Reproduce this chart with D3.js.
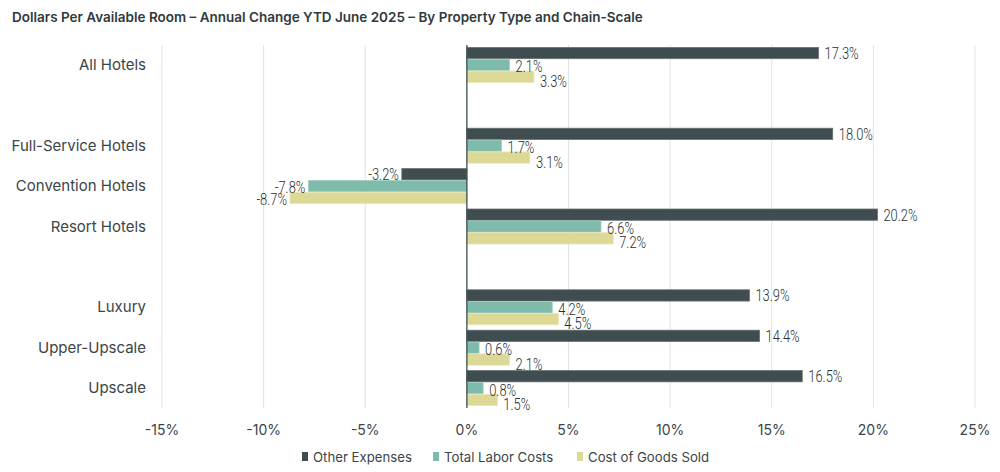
<!DOCTYPE html>
<html>
<head>
<meta charset="utf-8">
<script src="https://cdn.jsdelivr.net/npm/d3@7"></script>
<style>
  body { margin: 0; background: #fff; }
  svg { display: block; }
</style>
</head>
<body>
<svg id="chart" width="1000" height="472"></svg>
<script>
'use strict';

// chart data
const categories = [
  'All Hotels', '', 'Full-Service Hotels', 'Convention Hotels', 'Resort Hotels',
  ' ', 'Luxury', 'Upper-Upscale', 'Upscale'
];
const seriesNames = ['Other Expenses', 'Total Labor Costs', 'Cost of Goods Sold'];
const otherExpenses = [17.3, null, 18.0, -3.2, 20.2, null, 13.9, 14.4, 16.5];
const laborCosts = [2.1, null, 1.7, -7.8, 6.6, null, 4.2, 0.6, 0.8];
const goodsSold = [3.3, null, 3.1, -8.7, 7.2, null, 4.5, 2.1, 1.5];
const xTicks = [-15, -10, -5, 0, 5, 10, 15, 20, 25];

const colors = ['#3f4d50', '#7fbbab', '#dcd896'];
const strokes = ['#65716f', '#a2cfc2', '#e9e6b8'];
// small vertical nudge of the value labels per series
const labelShift = [0, 1.5, 4];

const svg = d3.select('#chart');
const margin = {top: 45, left: 162, right: 25, bottom: 64};
const width = 1000;
const height = 472;

const x = d3.scaleLinear()
  .domain([-15, 25])
  .range([margin.left, width - margin.right]);

const y = d3.scaleBand()
  .domain(categories)
  .range([margin.top, height - margin.bottom])
  .paddingInner(0.134)
  .paddingOuter(0.06);

const ySub = d3.scaleBand()
  .domain(d3.range(seriesNames.length))
  .range([0, y.bandwidth()])
  .paddingInner(0.05);

// title
svg.append('text')
  .attr('x', 12)
  .attr('y', 21.5)
  .style('font-family', 'Inter, sans-serif')
  .style('font-weight', 600)
  .style('font-size', '13.5px')
  .style('fill', '#2f3a3c')
  .text('Dollars Per Available Room \u2013 Annual Change YTD June 2025 \u2013 By Property Type and Chain-Scale');

// grid lines
svg.append('g')
  .selectAll('line')
  .data(xTicks.filter(d => d !== 0))
  .enter()
  .append('line')
  .attr('x1', d => x(d))
  .attr('x2', d => x(d))
  .attr('y1', margin.top)
  .attr('y2', height - margin.bottom)
  .style('stroke', '#e1e3e3')
  .style('stroke-width', 1);

// tick labels
svg.append('g')
  .selectAll('text')
  .data(xTicks)
  .enter()
  .append('text')
  .attr('x', d => x(d))
  .attr('y', 435)
  .attr('text-anchor', 'middle')
  .style('font-family', 'Inter, sans-serif')
  .style('font-size', '14px')
  .style('fill', '#3b4547')
  .text(d => d + '%');

// category labels
svg.append('g')
  .selectAll('text')
  .data(categories.filter(d => d.trim() !== ''))
  .enter()
  .append('text')
  .attr('x', 146)
  .attr('y', d => y(d) + y.bandwidth() / 2 + 5)
  .attr('text-anchor', 'end')
  .style('font-family', 'Inter, sans-serif')
  .style('font-size', '15px')
  .style('fill', '#3b4547')
  .text(d => d);

// bars
const series = [otherExpenses, laborCosts, goodsSold];
const barData = [];
categories.forEach(function(c, i) {
  series.forEach(function(s, k) {
    if (s[i] !== null) {
      barData.push({cat: c, k: k, value: s[i]});
    }
  });
});

svg.append('g')
  .selectAll('rect')
  .data(barData)
  .enter()
  .append('rect')
  .attr('x', d => x(Math.min(0, d.value)))
  .attr('y', d => y(d.cat) + ySub(d.k))
  .attr('width', d => Math.abs(x(d.value) - x(0)))
  .attr('height', ySub.bandwidth())
  .style('fill', d => colors[d.k])
  .style('stroke', d => strokes[d.k])
  .style('stroke-width', 0.8);

// value labels, a light face squeezed horizontally
svg.append('g')
  .selectAll('text')
  .data(barData)
  .enter()
  .append('text')
  .attr('transform', function(d) {
    const tx = d.value >= 0 ? x(d.value) + 6 : x(d.value) - 3;
    const ty = y(d.cat) + ySub(d.k) + ySub.bandwidth() / 2 + 6 +
      labelShift[d.k] * (d.value >= 0 ? 1 : 0.3);
    return 'translate(' + tx + ',' + ty + ') scale(0.76,1)';
  })
  .attr('text-anchor', d => d.value >= 0 ? 'start' : 'end')
  .style('font-family', 'Roboto, sans-serif')
  .style('font-weight', 300)
  .style('font-size', '17px')
  .style('fill', '#263032')
  .text(d => d.value.toFixed(1) + '%');

// zero line
svg.append('line')
  .attr('x1', x(0))
  .attr('x2', x(0))
  .attr('y1', margin.top)
  .attr('y2', height - margin.bottom)
  .style('stroke', '#3f4d50')
  .style('stroke-width', 1.3);

// legend
const legendX = [302, 433, 577];
const legend = svg.append('g')
  .selectAll('g')
  .data(seriesNames)
  .enter()
  .append('g')
  .attr('transform', (d, i) => 'translate(' + legendX[i] + ',456.5)');

legend.append('rect')
  .attr('x', 0)
  .attr('y', -4.5)
  .attr('width', 6)
  .attr('height', 9)
  .style('fill', (d, i) => colors[i]);

legend.append('text')
  .attr('x', 11)
  .attr('y', 5)
  .style('font-family', 'Inter, sans-serif')
  .style('font-size', '13.2px')
  .style('fill', '#3b4547')
  .text(d => d);
</script>
</body>
</html>
